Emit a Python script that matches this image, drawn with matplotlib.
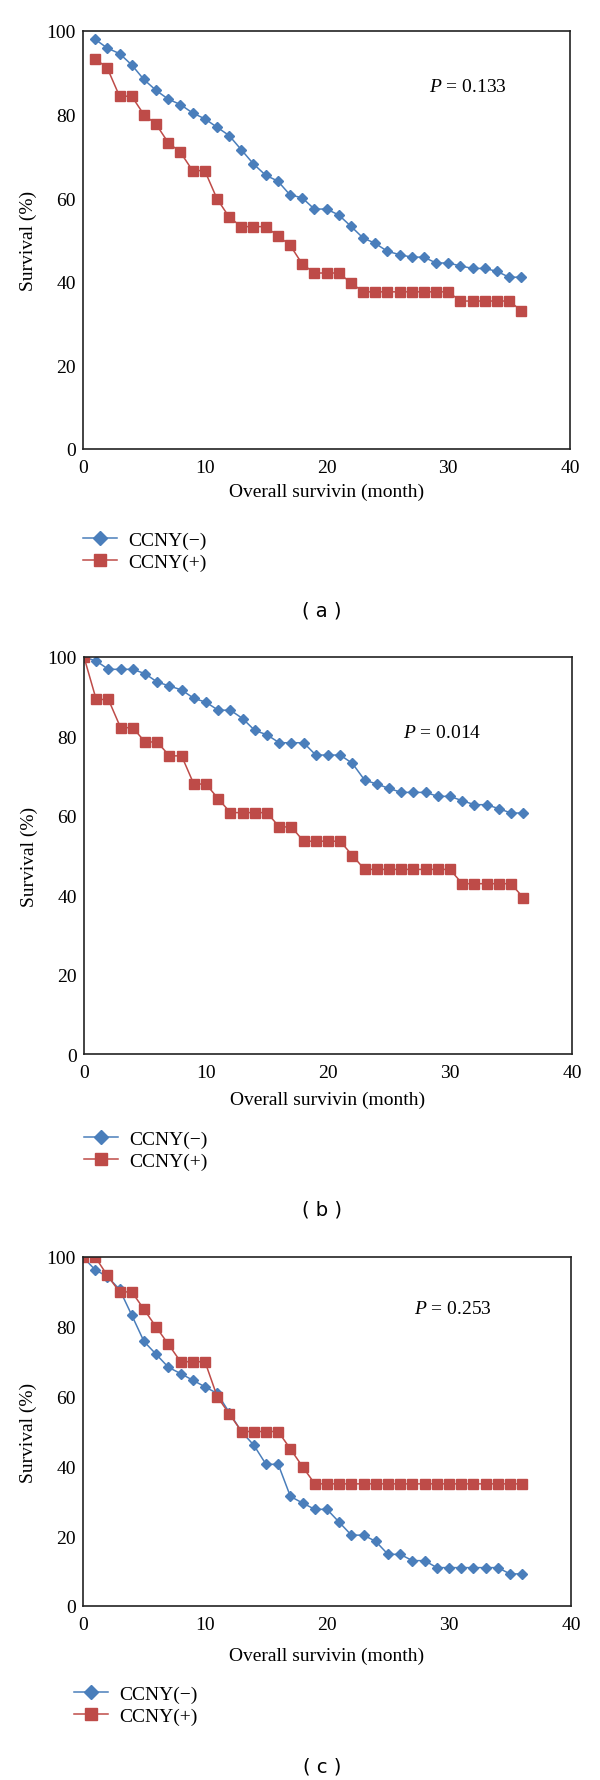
import matplotlib
matplotlib.use("Agg")
import matplotlib.pyplot as plt

plt.rcParams['font.family'] = ['Liberation Serif', 'DejaVu Serif']
plt.rcParams['mathtext.fontset'] = 'custom'
plt.rcParams['mathtext.rm'] = 'Liberation Serif'
plt.rcParams['mathtext.it'] = 'Liberation Serif:italic'

# panel (a)
months_a = list(range(1, 37))
neg_a = [98.0, 95.9, 94.6, 91.9, 88.4, 85.8, 83.7, 82.4, 80.4, 79.0, 77.0, 75.0,
         71.6, 68.2, 65.5, 64.1, 60.8, 60.1, 57.4, 57.4, 56.0, 53.3, 50.5, 49.2,
         47.3, 46.5, 45.9, 45.9, 44.5, 44.5, 43.8, 43.2, 43.2, 42.5, 41.1, 41.1]
pos_a = [93.4, 91.1, 84.4, 84.4, 80.0, 77.7, 73.3, 71.0, 66.6, 66.6, 59.9, 55.5,
         53.2, 53.2, 53.2, 51.0, 48.8, 44.3, 42.1, 42.1, 42.1, 39.8, 37.6, 37.6,
         37.6, 37.6, 37.6, 37.6, 37.6, 37.6, 35.4, 35.4, 35.4, 35.4, 35.4, 33.1]

# panel (b)
months_b = list(range(0, 37))
neg_b = [100, 99.0, 96.9, 96.9, 96.9, 95.8, 93.7, 92.7, 91.7, 89.6, 88.6, 86.6,
         86.6, 84.5, 81.5, 80.4, 78.4, 78.4, 78.4, 75.3, 75.3, 75.3, 73.2, 69.0,
         68.0, 66.9, 65.9, 65.9, 65.9, 64.9, 64.9, 63.8, 62.8, 62.8, 61.8, 60.7, 60.7]
pos_b = [100, 89.3, 89.3, 82.2, 82.2, 78.6, 78.6, 75.1, 75.1, 68.0, 68.0, 64.3,
         60.8, 60.8, 60.8, 60.8, 57.2, 57.2, 53.6, 53.6, 53.6, 53.6, 50.0, 46.5,
         46.5, 46.5, 46.5, 46.5, 46.5, 46.5, 46.5, 42.9, 42.9, 42.9, 42.9, 42.9, 39.4]

# panel (c)
months_c = list(range(0, 37))
neg_c = [100, 96.3, 94.4, 90.7, 83.3, 75.8, 72.1, 68.4, 66.6, 64.7, 62.8, 60.9,
         55.4, 49.9, 46.1, 40.6, 40.6, 31.4, 29.5, 27.7, 27.7, 24.0, 20.3, 20.3,
         18.5, 14.8, 14.8, 13.0, 13.0, 11.0, 11.0, 11.0, 11.0, 11.0, 11.0, 9.2, 9.2]
pos_c = [100, 100, 94.7, 90.0, 90.0, 85.0, 79.9, 75.0, 70.0, 70.0, 70.0, 60.0,
         55.0, 50.0, 50.0, 50.0, 50.0, 45.0, 39.9, 35.0, 35.0, 35.0, 35.0, 35.0,
         35.0, 35.0, 35.0, 35.0, 35.0, 35.0, 35.0, 35.0, 35.0, 35.0, 35.0, 35.0, 35.0]

p_values = ["0.133", "0.014", "0.253"]
panel_tags = ["( a )", "( b )", "( c )"]
x_ticks = [0, 10, 20, 30, 40]
y_ticks = [0, 20, 40, 60, 80, 100]

blue = "#4a7ebb"
red = "#be4b48"

W, H = 600, 1781
fig = plt.figure(figsize=(W / 100, H / 100), dpi=100)


def box(l, t, r, b):
    return [l / W, 1 - b / H, (r - l) / W, (b - t) / H]


# data, axes box (px), P text pos, legend row y, legend x, tag y, xlabel pad
panels = [
    (months_a, neg_a, pos_a, (83, 32, 570, 450), (468, 87), 540, 83, 611, 5.0),
    (months_b, neg_b, pos_b, (84, 658, 572, 1055), (442, 734), 1139, 84, 1210, 7.0),
    (months_c, neg_c, pos_c, (83, 1258, 571, 1607), (453, 1310), 1694, 74, 1767, 10.0),
]

for i, (mx, neg, pos, rect, ptxt, leg_y, leg_x, tag_y, xpad) in enumerate(panels):
    ax = fig.add_axes(box(*rect))
    l1, = ax.plot(mx, neg, color=blue, lw=1.1, marker="D", ms=5.5,
                  mec=blue, mfc=blue, label="CCNY(\u2212)")
    l2, = ax.plot(mx, pos, color=red, lw=1.1, marker="s", ms=6.5,
                  mec=red, mfc=red, label="CCNY(+)")
    ax.set_xlim(0, 40)
    ax.set_ylim(0, 100)
    ax.set_xticks(x_ticks)
    ax.set_yticks(y_ticks)
    ax.tick_params(length=0, labelsize=14, pad=5)
    ax.tick_params(axis="x", pad=7)
    for s in ax.spines.values():
        s.set_linewidth(1.2)
        s.set_color("#222222")
    ax.set_ylabel("Survival (%)", fontsize=14, labelpad=7)
    ax.set_xlabel("Overall survivin (month)", fontsize=14, labelpad=xpad)
    fig.text(ptxt[0] / W, 1 - ptxt[1] / H, "$P$ = " + p_values[i],
             fontsize=14, ha="center", va="center")
    fig.legend(handles=[l1, l2], loc="center left",
               bbox_to_anchor=(leg_x / W, 1 - (leg_y + 12) / H),
               frameon=False, fontsize=14, handlelength=1.75,
               handletextpad=0.6, labelspacing=0.25, borderpad=0,
               borderaxespad=0, markerscale=1.35)
    fig.text(322 / W, 1 - tag_y / H, panel_tags[i], fontsize=14,
             ha="center", va="center", family="DejaVu Sans")

fig.savefig("out.png", dpi=100)
